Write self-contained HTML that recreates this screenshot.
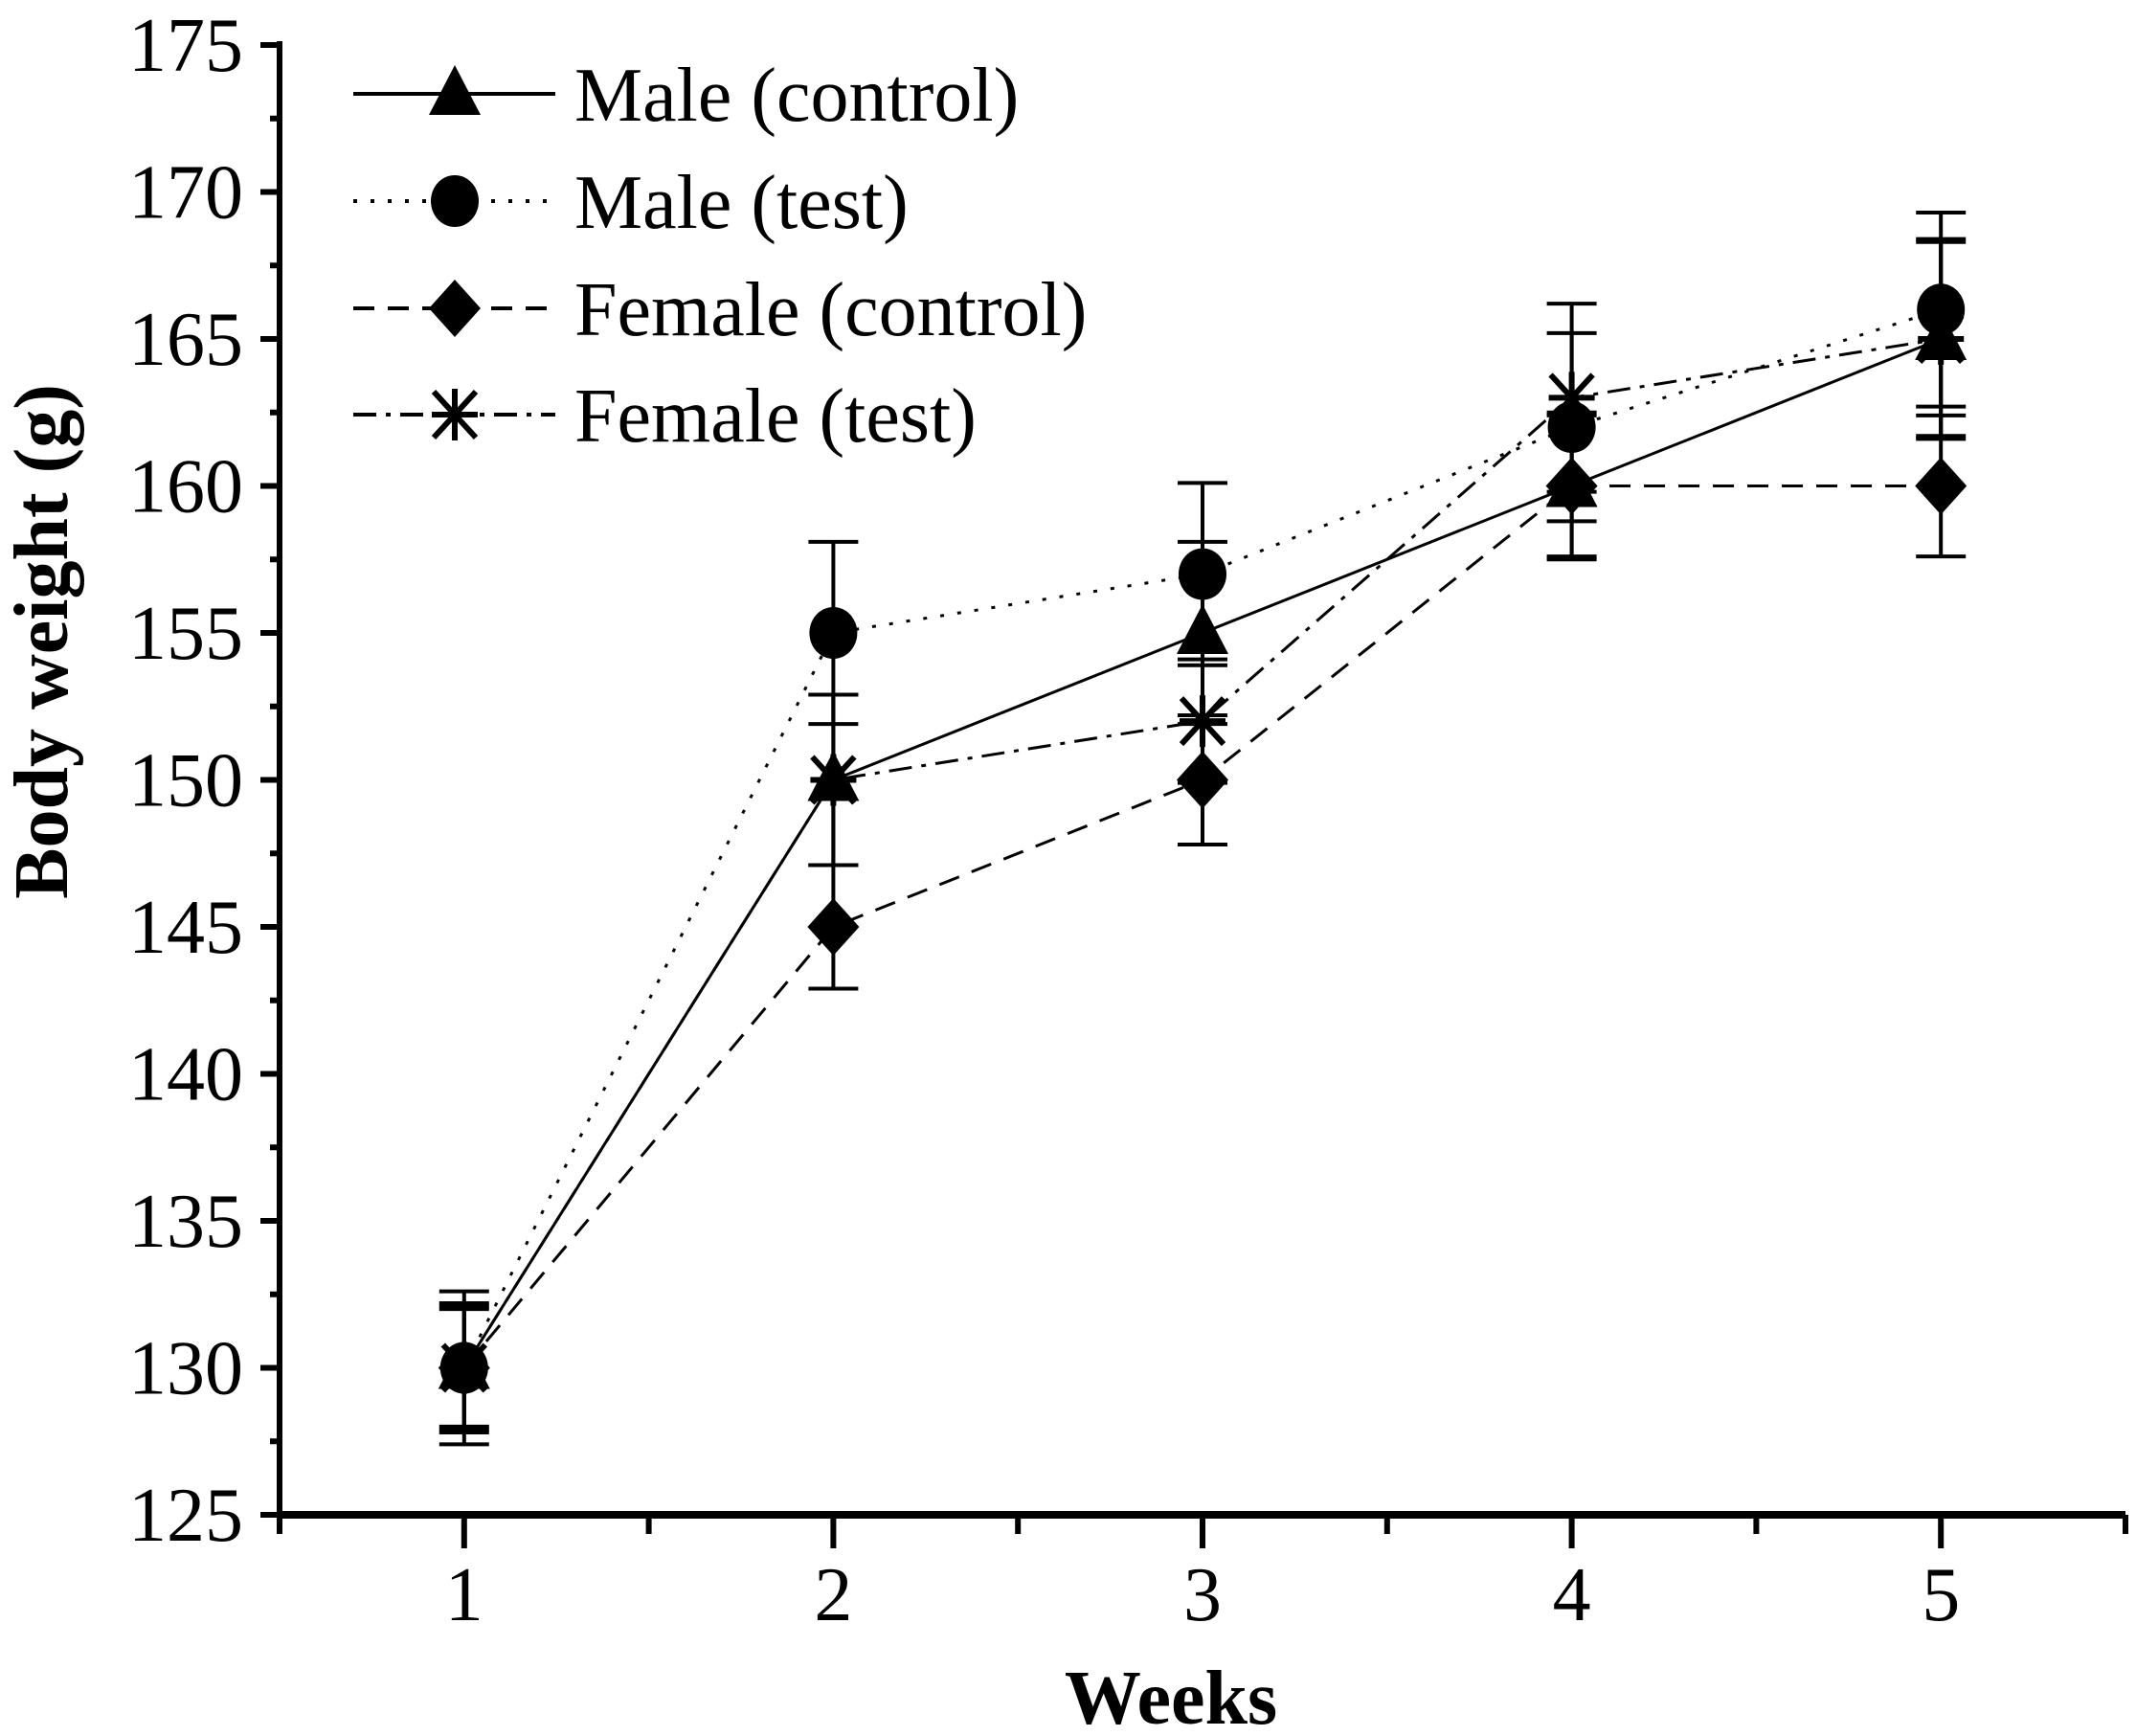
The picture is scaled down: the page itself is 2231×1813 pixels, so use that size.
<!DOCTYPE html>
<html><head><meta charset="utf-8"><style>
html,body{margin:0;padding:0;background:#fff;}
svg{display:block;}
text{font-family:"Liberation Serif",serif;fill:#000;}
</style></head><body>
<svg id="chart" width="2231" height="1813" viewBox="0 0 2231 1813" xmlns="http://www.w3.org/2000/svg"></svg>
<script>
const weeks=[1,2,3,4,5];
const yTicks=[125,130,135,140,145,150,155,160,165,170,175];
const maleControl=[130,150,155,160,165];
const maleControlErr=[2.6,2.9,3.1,2.5,3.4];
const maleTest=[130,155,157,162,166];
const maleTestErr=[2.1,3.1,3.1,3.2,3.3];
const femaleControl=[130,145,150,160,160];
const femaleControlErr=[2.0,2.1,2.2,2.4,2.4];
const femaleTest=[130,150,152,163,165];
const femaleTestErr=[2.2,2.9,2.1,3.2,3.3];
const seriesNames=["Male (control)","Male (test)","Female (control)","Female (test)"];

const svg=document.getElementById('chart');
const NS="http://www.w3.org/2000/svg";
const X0=292,X1=2220,Y0=1582,Y1=47;
function xs(w){return X0+(w-0.5)/5*(X1-X0);}
function ys(v){return Y0-(v-125)/50*(Y0-Y1);}
function mk(tag,attrs,parent){const e=document.createElementNS(NS,tag);for(const k in attrs)e.setAttribute(k,attrs[k]);(parent||svg).appendChild(e);return e;}

// axes
let g=mk('g',{});


mk('line',{x1:X0,y1:Y0,x2:X1,y2:Y0,stroke:'#000','stroke-width':8},g);
mk('line',{x1:X0,y1:Y0+4,x2:X0,y2:Y1-4,stroke:'#000','stroke-width':6},g);
yTicks.forEach((v,i)=>{
  const y=ys(v);
  mk('line',{x1:X0-20,y1:y,x2:X0,y2:y,stroke:'#000','stroke-width':6},g);
  if(i<yTicks.length-1){const ym=ys(v+2.5);mk('line',{x1:X0-10,y1:ym,x2:X0,y2:ym,stroke:'#000','stroke-width':6},g);}
  const t=mk('text',{x:X0-38,y:y+27,'text-anchor':'end','font-size':80},g);
  t.textContent=v;
  
  
});
for(let w=0.5;w<=5.51;w+=0.5){
  const x=xs(w);const major=Math.abs(w-Math.round(w))<0.01;
  mk('line',{x1:x,y1:Y0,x2:x,y2:Y0+(major?35:20),stroke:'#000','stroke-width':6},g);
}
weeks.forEach(w=>{
  const t=mk('text',{x:xs(w),y:Y0+110,'text-anchor':'middle','font-size':80},g);
  t.textContent=w;
  
  
});
let t=mk('text',{x:1223,y:1800,'text-anchor':'middle','font-size':80,'font-weight':'bold'});
t.textContent='Weeks';


t=mk('text',{x:0,y:0,'text-anchor':'middle','font-size':80,'font-weight':'bold',transform:'translate(70,670) rotate(-90)'});
t.textContent='Body weight (g)';



const dashes=['none','4 14','22 14','24 10 5 10'];
function marker(type,x,y,parent){
  if(type===0)mk('polygon',{points:`${x},${y-30} ${x-27},${y+22} ${x+27},${y+22}`,fill:'#000'},parent);
  else if(type===1)mk('ellipse',{cx:x,cy:y,rx:25,ry:27,fill:'#000'},parent);
  else if(type===2)mk('polygon',{points:`${x},${y-30} ${x+27},${y} ${x},${y+30} ${x-27},${y}`,fill:'#000'},parent);
  else{[[0,-27,0,27],[-22,-24,22,24],[-22,24,22,-24],[-24,0,24,0]].forEach(s=>mk('line',{x1:x+s[0],y1:y+s[1],x2:x+s[2],y2:y+s[3],stroke:'#000','stroke-width':6},parent));}
}
const allVals=[maleControl,maleTest,femaleControl,femaleTest];
const allErr=[maleControlErr,maleTestErr,femaleControlErr,femaleTestErr];
const names=['male-control','male-test','female-control','female-test'];
allVals.forEach((vals,s)=>{
  const sg=mk('g',{});
  
  
  const pts=vals.map((v,i)=>xs(weeks[i])+','+ys(v)).join(' ');
  mk('polyline',{points:pts,fill:'none',stroke:'#000','stroke-width':3,'stroke-dasharray':dashes[s]},sg);
  vals.forEach((v,i)=>{
    const x=xs(weeks[i]),e=allErr[s][i];
    const yt=ys(v+e),yb=ys(v-e);
    const eb=mk('g',{},sg);
    
    
    mk('line',{x1:x,y1:yt,x2:x,y2:yb,stroke:'#000','stroke-width':4},eb);
    mk('line',{x1:x-26,y1:yt,x2:x+26,y2:yt,stroke:'#000','stroke-width':4},eb);
    mk('line',{x1:x-26,y1:yb,x2:x+26,y2:yb,stroke:'#000','stroke-width':4},eb);
    const m=mk('g',{},sg);
    
    
    marker(s,x,ys(v),m);
  });
});
// legend
const lg=mk('g',{});


const ly=[98,210,322,433];
seriesNames.forEach((n,s)=>{
  const e=mk('g',{},lg);
  
  
  mk('line',{x1:369,y1:ly[s],x2:580,y2:ly[s],stroke:'#000','stroke-width':4,'stroke-dasharray':dashes[s]},e);
  marker(s,475,ly[s],e);
  const tt=mk('text',{x:600,y:ly[s]+28,'font-size':80},e);
  tt.textContent=n;
});
</script>
</body></html>
